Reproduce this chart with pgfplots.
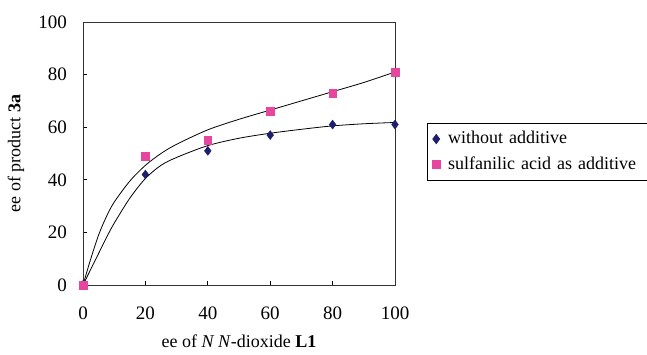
\documentclass[border=0pt]{standalone}
\usepackage{pgfplots}
\pgfplotsset{compat=1.18}
\usepackage{fontspec}
\setmainfont{Liberation Serif}
\definecolor{navyd}{RGB}{30,30,110}
\definecolor{pinkm}{RGB}{230,70,160}
\begin{document}
\fontsize{18}{21}\selectfont
\begin{tikzpicture}
\begin{axis}[
  at={(83pt,70pt)}, anchor=south west,
  scale only axis, width=312pt, height=263pt,
  xmin=0, xmax=100, ymin=0, ymax=100,
  xtick={0,20,...,100}, ytick={0,20,...,100},
  tick align=inside, xtick pos=bottom, ytick pos=left,
  major tick length=4pt,
  tick style={black, line width=0.8pt},
  axis line style={line width=0.9pt, black!80},
  clip=false,
  /pgf/number format/assume math mode=true,
  ticklabel style={font=\fontsize{19}{22}\selectfont},
  xticklabel style={yshift=-16pt},
  yticklabel style={xshift=-10pt},
  xlabel={ee of \textit{N N}-dioxide \textbf{L1}},
  ylabel={ee of product \textbf{3a}},
  xlabel style={at={(0.5,0)}, anchor=center, yshift=-56pt, font=\fontsize{18}{21}\selectfont},
  ylabel style={yshift=2pt, font=\fontsize{18}{21}\selectfont},
  legend style={at={(1.1026,0.616)}, anchor=north west, draw=black, line width=0.9pt,
    font=\fontsize{18}{21}\selectfont, row sep=6pt, inner xsep=5pt, inner ysep=6pt,
    text width=212pt, /tikz/every odd column/.append style={column sep=6pt}},
  legend cell align=left,
]
\addplot[black, line width=0.8pt, smooth, forget plot] coordinates {
(0,0)(2.5,10)(5,19)(7.5,26)(10,31.5)(15,39.5)(20,45.5)(25,50)(30,53.5)(40,59)(50,63)(60,66.5)(70,70)(80,73.5)(90,77)(100,81)};
\addplot[black, line width=0.8pt, smooth, forget plot] coordinates {
(0,0)(2.5,6)(5,12)(7.5,18)(10,23.5)(15,33)(20,40.5)(25,45.5)(30,48.5)(40,53)(50,55.8)(60,57.7)(70,59.2)(80,60.5)(90,61.3)(100,61.8)};
\addplot[only marks, mark=diamond*, mark size=4.5pt, mark options={draw=navyd, fill=navyd}] coordinates {
(0,0)(20,42)(40,51)(60,57)(80,61)(100,61)};
\addlegendentry{without additive}
\addplot[only marks, mark=square*, mark size=3.8pt, mark options={draw=pinkm, fill=pinkm}] coordinates {
(0,0)(20,49)(40,55)(60,66)(80,73)(100,81)};
\addlegendentry{sulfanilic acid as additive}
\end{axis}
\pgfresetboundingbox
\path[use as bounding box] (0,0) rectangle (647pt,355pt);
\end{tikzpicture}
\end{document}
